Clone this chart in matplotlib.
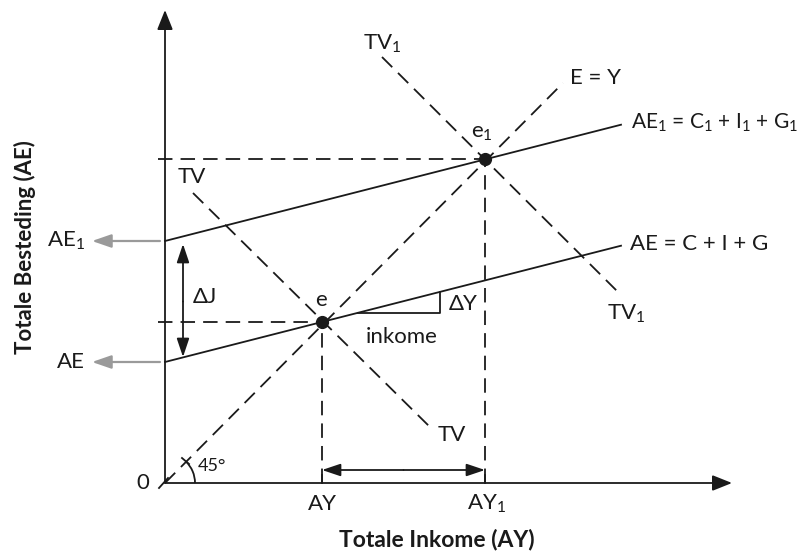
import matplotlib
matplotlib.use("Agg")
import matplotlib.pyplot as plt
from matplotlib.patches import Arc

FONT = "Lato"
plt.rcParams["font.family"] = [FONT, "DejaVu Sans"]
plt.rcParams["mathtext.fontset"] = "custom"
plt.rcParams["mathtext.rm"] = FONT
plt.rcParams["mathtext.it"] = FONT + ":italic"
plt.rcParams["mathtext.bf"] = FONT + ":bold"

# ---- diagram data (diagram units, origin at 0) ----
AY = 157
AY1 = 320
ae_intercept = 121
ae1_intercept = 242
ae_slope = 0.255
line_x_end = 456
e_point = (AY, ae_intercept + ae_slope * AY)
e1_point = (AY1, ae1_intercept + ae_slope * AY1)
ey_line_x = [0, 398]
ey_line_y = [0, 400]
tv_x = [28, 268]
tv_y = [290, 53]
tv1_x = [217, 455]
tv1_y = [426, 189]
triangle_x = [193, 275, 275]
x_axis_end = 567
y_axis_end = 473
dj_x = 18
ay_arrow_y = 13

INK = "#1a1a1a"
GRAY = "#9a9a9a"
DASH = (0, (8, 4.5))
LW = 1.3
FS = 16

fig = plt.figure(figsize=(8.09, 5.56), dpi=100)
ax = fig.add_axes([0, 0, 1, 1])
ax.set_xlim(-165, 644)
ax.set_ylim(-73, 483)
ax.axis("off")

def arrow(x0, y0, x1, y1, color=INK, style="-|>,head_length=1.0,head_width=0.4",
          ms=12, lw=LW):
    ax.annotate("", xy=(x1, y1), xytext=(x0, y0),
                arrowprops=dict(arrowstyle=style, color=color, lw=lw,
                                mutation_scale=ms, shrinkA=0, shrinkB=0))

# axes
arrow(0, 0, 0, y_axis_end)
arrow(0, 0, x_axis_end, 0)
ax.plot([-6, 3], [-5, 5], color=INK, lw=LW)

# AE lines
xs = [0, line_x_end]
ax.plot(xs, [ae_intercept + ae_slope * x for x in xs], color=INK, lw=LW)
ax.plot(xs, [ae1_intercept + ae_slope * x for x in xs], color=INK, lw=LW)

# dashed lines
ax.plot(ey_line_x, ey_line_y, color=INK, lw=LW, ls=DASH)
ax.plot(tv_x, tv_y, color=INK, lw=LW, ls=DASH)
ax.plot(tv1_x, tv1_y, color=INK, lw=LW, ls=DASH)
ax.plot([-7, e_point[0]], [e_point[1]] * 2, color=INK, lw=LW, ls=DASH)
ax.plot([-7, e1_point[0]], [e1_point[1]] * 2, color=INK, lw=LW, ls=DASH)
ax.plot([e_point[0]] * 2, [0, e_point[1]], color=INK, lw=LW, ls=DASH)
ax.plot([e1_point[0]] * 2, [0, e1_point[1]], color=INK, lw=LW, ls=DASH)

# equilibrium points
ax.plot(*e_point, "o", color=INK, ms=8.5)
ax.plot(*e1_point, "o", color=INK, ms=8.5)

# delta arrows
small = "-|>,head_length=1.25,head_width=0.42"
mid_j = (ae1_intercept + ae_intercept) / 2
arrow(dj_x, mid_j, dj_x, ae1_intercept - 3, style=small, ms=9)
arrow(dj_x, mid_j, dj_x, ae_intercept + 5, style=small, ms=9)
mid_y = (AY + AY1) / 2
arrow(mid_y, ay_arrow_y, AY, ay_arrow_y, style=small, ms=9)
arrow(mid_y, ay_arrow_y, AY1, ay_arrow_y, style=small, ms=9)
ax.plot([AY, AY], [0, 8], color=INK, lw=LW)
ax.plot([AY1, AY1], [0, 8], color=INK, lw=LW)

# slope triangle
ty = [ae_intercept + ae_slope * triangle_x[0]] * 2 + [ae_intercept + ae_slope * triangle_x[2]]
ax.plot(triangle_x, ty, color=INK, lw=LW)

# gray arrows to labels
for yv in (ae1_intercept, ae_intercept):
    arrow(-5, yv, -73, yv, color=GRAY,
          style="-|>,head_length=1.3,head_width=0.45", ms=9, lw=1.6)

# 45 degree arc
ax.add_patch(Arc((0, 0), 60, 60, theta1=0, theta2=46, color=INK, lw=LW))
ax.plot([17, 24], [25, 19], color=INK, lw=LW)

# texts
def t(x, y, s, ha="center", va="center", **kw):
    ax.text(x, y, s, ha=ha, va=va, fontsize=kw.pop("fs", FS), color=INK, **kw)

t(-16, 0, "0", ha="right")
t(AY, -21, "AY")
t(AY1 + 2, -21, r"AY$\mathregular{_1}$")
t(47, 17, "45°", fs=13)
t(-80, ae1_intercept, r"AE$\mathregular{_1}$", ha="right")
t(-80, ae_intercept, "AE", ha="right")
t(40, 186, "ΔJ")
t(e_point[0] - 1, e_point[1] + 22, "e")
t(e1_point[0] - 3, e1_point[1] + 26, r"e$\mathregular{_1}$")
t(27, 306, "TV")
t(287, 48, "TV")
t(217, 439, r"TV$\mathregular{_1}$")
t(461, 169, r"TV$\mathregular{_1}$")
t(405, 405, "E = Y", ha="left")
t(466, 360, r"AE$\mathregular{_1}$ = C$\mathregular{_1}$ + I$\mathregular{_1}$ + G$\mathregular{_1}$",
  ha="left", fs=15)
t(465, 239, "AE = C + I + G", ha="left")
t(284, 179, "ΔY", ha="left")
t(237, 146, "inkome")
t(272, -57, "Totale Inkome (AY)", fontweight="bold", fs=16.5)
t(-140, 236, "Totale Besteding (AE)", rotation=90, fontweight="bold", fs=16)

fig.savefig("out.png", dpi=100)
